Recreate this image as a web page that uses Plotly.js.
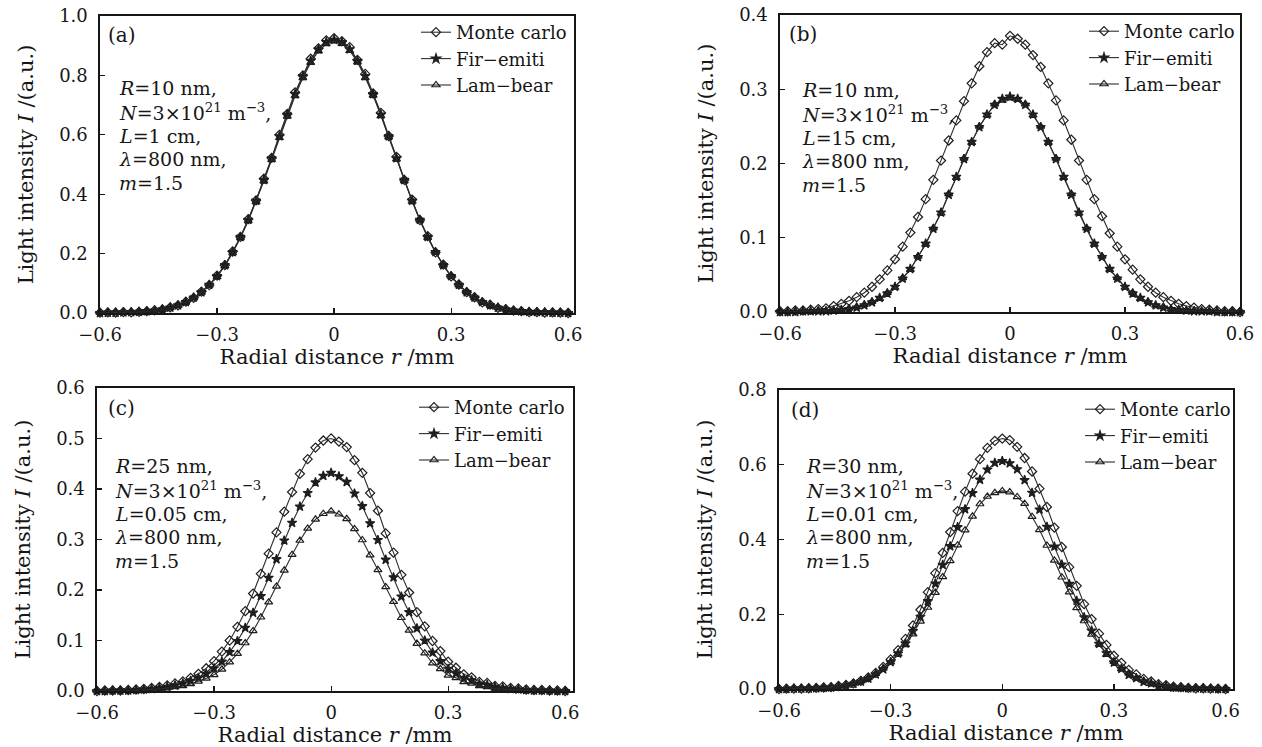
<!DOCTYPE html>
<html>
<head>
<meta charset="utf-8">
<script src="https://cdn.plot.ly/plotly-3.0.1.min.js"></script>
<style>html,body{margin:0;padding:0;background:#fff;}#chart{width:1262px;height:747px;}</style>
</head>
<body>
<div id="chart"></div>
<script>
// Radial distance r (mm)
const r = [-0.60,-0.58,-0.56,-0.54,-0.52,-0.50,-0.48,-0.46,-0.44,-0.42,-0.40,-0.38,-0.36,-0.34,-0.32,-0.30,-0.28,-0.26,-0.24,-0.22,-0.20,-0.18,-0.16,-0.14,-0.12,-0.10,-0.08,-0.06,-0.04,-0.02,0,0.02,0.04,0.06,0.08,0.10,0.12,0.14,0.16,0.18,0.20,0.22,0.24,0.26,0.28,0.30,0.32,0.34,0.36,0.38,0.40,0.42,0.44,0.46,0.48,0.50,0.52,0.54,0.56,0.58,0.60];

const seriesNames = ['Monte carlo', 'Fir\u2212emiti', 'Lam\u2212bear'];

// Panel (a)
const aMC = [.001,.002,.001,.003,.002,.004,.006,.009,.012,.019,.026,.038,.051,.072,.094,.126,.161,.207,.256,.316,.379,.452,.522,.600,.670,.743,.800,.856,.891,.918,.925,.915,.895,.852,.805,.739,.674,.596,.526,.448,.382,.313,.259,.204,.163,.123,.096,.070,.053,.036,.028,.017,.013,.008,.006,.003,.003,.001,.002,.001,.000];
const aFIR = [.000,.001,.001,.002,.003,.004,.006,.008,.012,.018,.026,.037,.052,.070,.095,.124,.161,.205,.256,.314,.378,.448,.521,.595,.668,.737,.798,.849,.888,.912,.920,.912,.888,.849,.798,.737,.668,.595,.521,.448,.378,.314,.256,.205,.161,.124,.095,.070,.052,.037,.026,.018,.012,.008,.006,.004,.003,.002,.001,.001,.000];
const aLAM = [.001,.001,.002,.002,.003,.004,.005,.008,.011,.017,.025,.036,.050,.069,.093,.122,.158,.202,.253,.310,.374,.444,.516,.590,.662,.731,.792,.843,.882,.906,.915,.907,.883,.845,.792,.733,.664,.592,.518,.445,.376,.312,.254,.204,.160,.123,.094,.070,.051,.036,.026,.018,.012,.008,.005,.004,.002,.002,.001,.001,.000];

// Panel (b)
const bMC = [.001,.001,.002,.002,.003,.004,.005,.008,.011,.015,.020,.026,.034,.044,.056,.071,.088,.107,.128,.152,.178,.204,.231,.258,.284,.308,.331,.350,.362,.360,.372,.368,.360,.346,.330,.308,.285,.258,.232,.204,.178,.152,.129,.106,.088,.071,.057,.044,.034,.026,.020,.015,.011,.008,.006,.004,.003,.002,.001,.001,.000];
const bFIR = [.000,.000,.000,.001,.001,.001,.001,.002,.003,.004,.006,.009,.013,.019,.025,.034,.045,.058,.074,.092,.112,.134,.158,.182,.206,.229,.249,.266,.279,.287,.290,.287,.279,.266,.249,.229,.206,.182,.158,.134,.112,.092,.074,.058,.045,.034,.025,.019,.013,.009,.006,.004,.003,.002,.001,.001,.001,.000,.000,.000,.000];
const bLAM = [.001,.000,.001,.001,.001,.002,.002,.002,.003,.005,.007,.010,.014,.018,.026,.033,.046,.057,.075,.091,.113,.133,.159,.181,.207,.228,.250,.265,.280,.285,.288,.286,.280,.265,.250,.228,.207,.181,.159,.133,.113,.091,.075,.057,.046,.033,.026,.018,.014,.009,.007,.004,.003,.002,.002,.001,.001,.001,.000,.001,.000];

// Panel (c)
const cMC = [.000,.001,.001,.001,.002,.003,.004,.006,.008,.011,.015,.019,.026,.034,.045,.059,.078,.100,.127,.158,.193,.232,.272,.314,.355,.394,.430,.459,.482,.496,.500,.494,.483,.457,.432,.392,.357,.312,.274,.230,.195,.156,.128,.099,.079,.058,.046,.033,.027,.018,.016,.010,.009,.006,.005,.003,.002,.002,.001,.001,.000];
const cFIR = [.000,.000,.001,.001,.001,.002,.003,.004,.006,.008,.011,.015,.020,.026,.034,.045,.058,.077,.099,.125,.155,.188,.224,.261,.298,.333,.365,.392,.413,.426,.432,.425,.414,.391,.366,.332,.299,.260,.225,.187,.156,.124,.100,.076,.059,.044,.035,.025,.021,.014,.012,.008,.006,.004,.003,.002,.001,.001,.001,.000,.000];
const cLAM = [.000,.000,.000,.001,.001,.001,.002,.003,.004,.006,.008,.010,.014,.019,.025,.032,.043,.057,.074,.095,.119,.146,.176,.207,.239,.270,.298,.322,.340,.351,.356,.350,.341,.321,.299,.269,.240,.206,.177,.145,.120,.094,.075,.055,.044,.031,.026,.018,.015,.010,.008,.005,.004,.003,.002,.001,.001,.001,.000,.000,.000];

// Panel (d)
const dMC = [.000,.001,.001,.001,.002,.003,.004,.005,.008,.011,.015,.022,.031,.043,.059,.079,.104,.134,.170,.212,.259,.310,.364,.420,.476,.528,.576,.615,.645,.664,.670,.666,.648,.618,.582,.536,.487,.432,.380,.326,.276,.227,.187,.148,.118,.089,.070,.051,.039,.027,.020,.013,.010,.006,.005,.003,.002,.002,.001,.001,.000];
const dFIR = [.000,.000,.001,.001,.001,.002,.003,.004,.006,.009,.014,.020,.028,.039,.053,.072,.095,.122,.155,.193,.235,.282,.332,.382,.433,.481,.524,.560,.587,.605,.610,.604,.588,.559,.525,.480,.434,.381,.333,.281,.236,.192,.156,.121,.096,.071,.054,.038,.029,.019,.015,.009,.007,.004,.003,.002,.002,.001,.001,.000,.000];
const dLAM = [.000,.001,.001,.002,.002,.003,.003,.005,.007,.010,.015,.021,.030,.041,.055,.072,.093,.118,.147,.181,.218,.258,.300,.343,.385,.425,.462,.495,.515,.525,.530,.527,.514,.496,.461,.426,.384,.344,.299,.259,.217,.182,.146,.119,.092,.073,.054,.042,.029,.022,.014,.011,.007,.005,.004,.002,.002,.001,.001,.001,.000];

// Tick labels
const xTickVals = [-0.6, -0.3, 0, 0.3, 0.6];
const xTickText = ['\u22120.6', '\u22120.3', '0', '0.3', '0.6'];
const yTicksA = [0, 0.2, 0.4, 0.6, 0.8, 1.0];
const yTicksB = [0, 0.1, 0.2, 0.3, 0.4];
const yTicksC = [0, 0.1, 0.2, 0.3, 0.4, 0.5, 0.6];
const yTicksD = [0, 0.2, 0.4, 0.6, 0.8];

const paramsA = ['<i>R</i>=10 nm,', '<i>N</i>=3\u00d710<sup>21</sup> m<sup>\u22123</sup>,', '<i>L</i>=1 cm,', '<i>\u03bb</i>=800 nm,', '<i>m</i>=1.5'];
const paramsB = ['<i>R</i>=10 nm,', '<i>N</i>=3\u00d710<sup>21</sup> m<sup>\u22123</sup>,', '<i>L</i>=15 cm,', '<i>\u03bb</i>=800 nm,', '<i>m</i>=1.5'];
const paramsC = ['<i>R</i>=25 nm,', '<i>N</i>=3\u00d710<sup>21</sup> m<sup>\u22123</sup>,', '<i>L</i>=0.05 cm,', '<i>\u03bb</i>=800 nm,', '<i>m</i>=1.5'];
const paramsD = ['<i>R</i>=30 nm,', '<i>N</i>=3\u00d710<sup>21</sup> m<sup>\u22123</sup>,', '<i>L</i>=0.01 cm,', '<i>\u03bb</i>=800 nm,', '<i>m</i>=1.5'];

const W = 1262, H = 747;
const px = v => v / W;
const py = v => 1 - v / H;
const FONT = 'DejaVu Serif';
const INK = '#161616';

const panels = [
  {ax:'', lg:'legend', data:[aMC,aFIR,aLAM], xd:[100,574], yd:[16,313], xr:[-0.6,0.615], yr:[0,1.0], yt:yTicksA, tag:'(a)', tagPos:[106,35], params:paramsA, parPos:[117,88], legPos:[572,14]},
  {ax:'2', lg:'legend2', data:[bMC,bFIR,bLAM], xd:[780,1240], yd:[15,312], xr:[-0.6,0.6], yr:[0,0.4], yt:yTicksB, tag:'(b)', tagPos:[787,34], params:paramsB, parPos:[800,90], legPos:[1240,13]},
  {ax:'3', lg:'legend3', data:[cMC,cFIR,cLAM], xd:[97,573], yd:[388,691], xr:[-0.6,0.62], yr:[0,0.6], yt:yTicksC, tag:'(c)', tagPos:[106,408], params:paramsC, parPos:[113,466], legPos:[570,389]},
  {ax:'4', lg:'legend4', data:[dMC,dFIR,dLAM], xd:[779,1233], yd:[390,689], xr:[-0.6,0.62], yr:[0,0.8], yt:yTicksD, tag:'(d)', tagPos:[789,410], params:paramsD, parPos:[804,466], legPos:[1236,391]}
];

const symbols = ['diamond-open', 'star', 'triangle-up-open'];
const msize = [7, 7, 7];

const traces = [];
const layout = {
  width: W, height: H,
  margin: {l:0, r:0, t:0, b:0},
  paper_bgcolor: '#fff', plot_bgcolor: '#fff',
  font: {family: FONT, color: INK},
  showlegend: true,
  annotations: []
};

panels.forEach(p => {
  p.data.forEach((ys, k) => {
    traces.push({
      type: 'scatter', mode: 'lines+markers',
      x: r, y: ys, name: seriesNames[k],
      xaxis: 'x' + p.ax, yaxis: 'y' + p.ax, legend: p.lg,
      cliponaxis: false,
      line: {color: '#2e2e2e', width: 1.1},
      marker: {symbol: symbols[k], size: msize[k], color: '#1e1e1e', line: {color: '#1e1e1e', width: 1.2}}
    });
  });
  const common = {
    showline: true, linecolor: INK, linewidth: 1.6, mirror: true,
    ticks: 'inside', ticklen: 5, tickwidth: 1.2, tickcolor: INK,
    showgrid: false, zeroline: false,
    tickfont: {family: FONT, size: 18, color: INK}
  };
  layout['xaxis' + p.ax] = Object.assign({}, common, {
    domain: [px(p.xd[0]), px(p.xd[1])], range: p.xr, anchor: 'y' + p.ax,
    tickmode: 'array', tickvals: xTickVals, ticktext: xTickText, ticklabelstandoff: 5,
    title: {text: 'Radial distance <i>r</i> /mm', font: {family: FONT, size: 21, color: INK}, standoff: 1}
  });
  layout['yaxis' + p.ax] = Object.assign({}, common, {
    domain: [py(p.yd[1]), py(p.yd[0])], range: p.yr, anchor: 'x' + p.ax,
    tickmode: 'array', tickvals: p.yt, ticktext: p.yt.map(v => v.toFixed(1)), ticklabelstandoff: 7,
    title: {text: 'Light intensity <i>I</i> /(a.u.)', font: {family: FONT, size: 21, color: INK}, standoff: 20}
  });
  layout[p.lg] = {
    x: px(p.legPos[0]), y: py(p.legPos[1]), xanchor: 'right', yanchor: 'top',
    xref: 'paper', yref: 'paper',
    bgcolor: 'rgba(0,0,0,0)', borderwidth: 0,
    font: {family: FONT, size: 18, color: INK},
    tracegroupgap: 0, itemwidth: 30
  };
  layout.annotations.push({
    xref: 'paper', yref: 'paper', x: px(p.tagPos[0]), y: py(p.tagPos[1]),
    xanchor: 'left', yanchor: 'middle', showarrow: false, text: p.tag,
    font: {family: FONT, size: 20, color: INK}
  });
  p.params.forEach((t, i) => {
    layout.annotations.push({
      xref: 'paper', yref: 'paper', x: px(p.parPos[0]), y: py(p.parPos[1] + i * 23.8),
      xanchor: 'left', yanchor: 'middle', showarrow: false, text: t,
      font: {family: FONT, size: 19, color: INK}
    });
  });
});

Plotly.newPlot('chart', traces, layout, {staticPlot: true, displayModeBar: false});
</script>
</body>
</html>
